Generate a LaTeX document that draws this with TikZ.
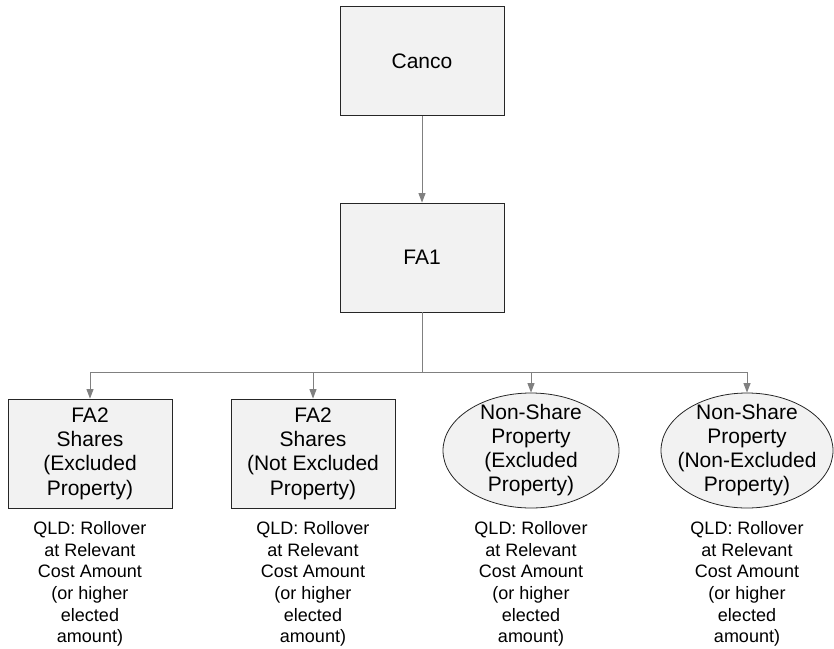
\documentclass[tikz,border=0pt]{standalone}
\usepackage{fontspec}
\setmainfont{Liberation Sans}
\usetikzlibrary{arrows.meta,shapes.geometric}
\definecolor{boxfill}{HTML}{F2F2F2}
\definecolor{linkgray}{HTML}{808080}

\begin{document}
\begin{tikzpicture}[x=1pt, y=-1pt,
  entity/.style={draw=black!85, fill=boxfill, line width=0.8pt, inner sep=0pt,
    minimum width=164pt, minimum height=109pt, align=center,
    font=\fontsize{21}{24.4}\selectfont},
  asset/.style={ellipse, draw=black!85, fill=boxfill, line width=0.8pt,
    inner sep=0pt, minimum height=115pt},
  label/.style={align=center, font=\fontsize{21}{24}\selectfont},
  note/.style={align=center, font=\fontsize{18}{21.6}\selectfont},
  link/.style={draw=linkgray, line width=1pt},
  arrow/.style={link, -{Triangle[width=7pt,length=9.5pt]}}]
  \useasboundingbox (0,0) rectangle (834,648);

  % Entities in the chain
  \node[entity] (canco) at (422, 61)    {Canco};
  \node[entity] (fa1)   at (422, 257.5) {FA1};

  % Property held by FA1
  \node[entity] (p1) at (90, 453.5)  {FA2\\Shares\\(Excluded\\Property)};
  \node[entity] (p2) at (313, 453.5) {FA2\\Shares\\(Not Excluded\\Property)};
  \node[asset, minimum width=176pt] (p3) at (531, 450.5) {};
  \node[asset, minimum width=172pt] (p4) at (747, 450.5) {};
  \node[label] (t3) at (p3) {Non-Share\\Property\\(Excluded\\Property)};
  \node[label] (t4) at (p4) {Non-Share\\Property\\(Non-Excluded\\Property)};

  % Tax outcome under each item
  \foreach \i in {1,...,4} {
    \node[note] (q\i) at (p\i |- 0,584)
      {QLD: Rollover\\at Relevant\\Cost Amount\\(or higher\\elected\\amount)};
  }

  % Connectors
  \coordinate (bus) at (422, 372);
  \draw[arrow] (canco) -- (fa1);
  \draw[link] (fa1.south) -- (bus);
  \draw[link] (p1.north |- bus) -- (p4.north |- bus);
  \foreach \i in {1,...,4} {
    \draw[arrow] (p\i.north |- bus) -- (p\i.north);
  }
\end{tikzpicture}
\end{document}
